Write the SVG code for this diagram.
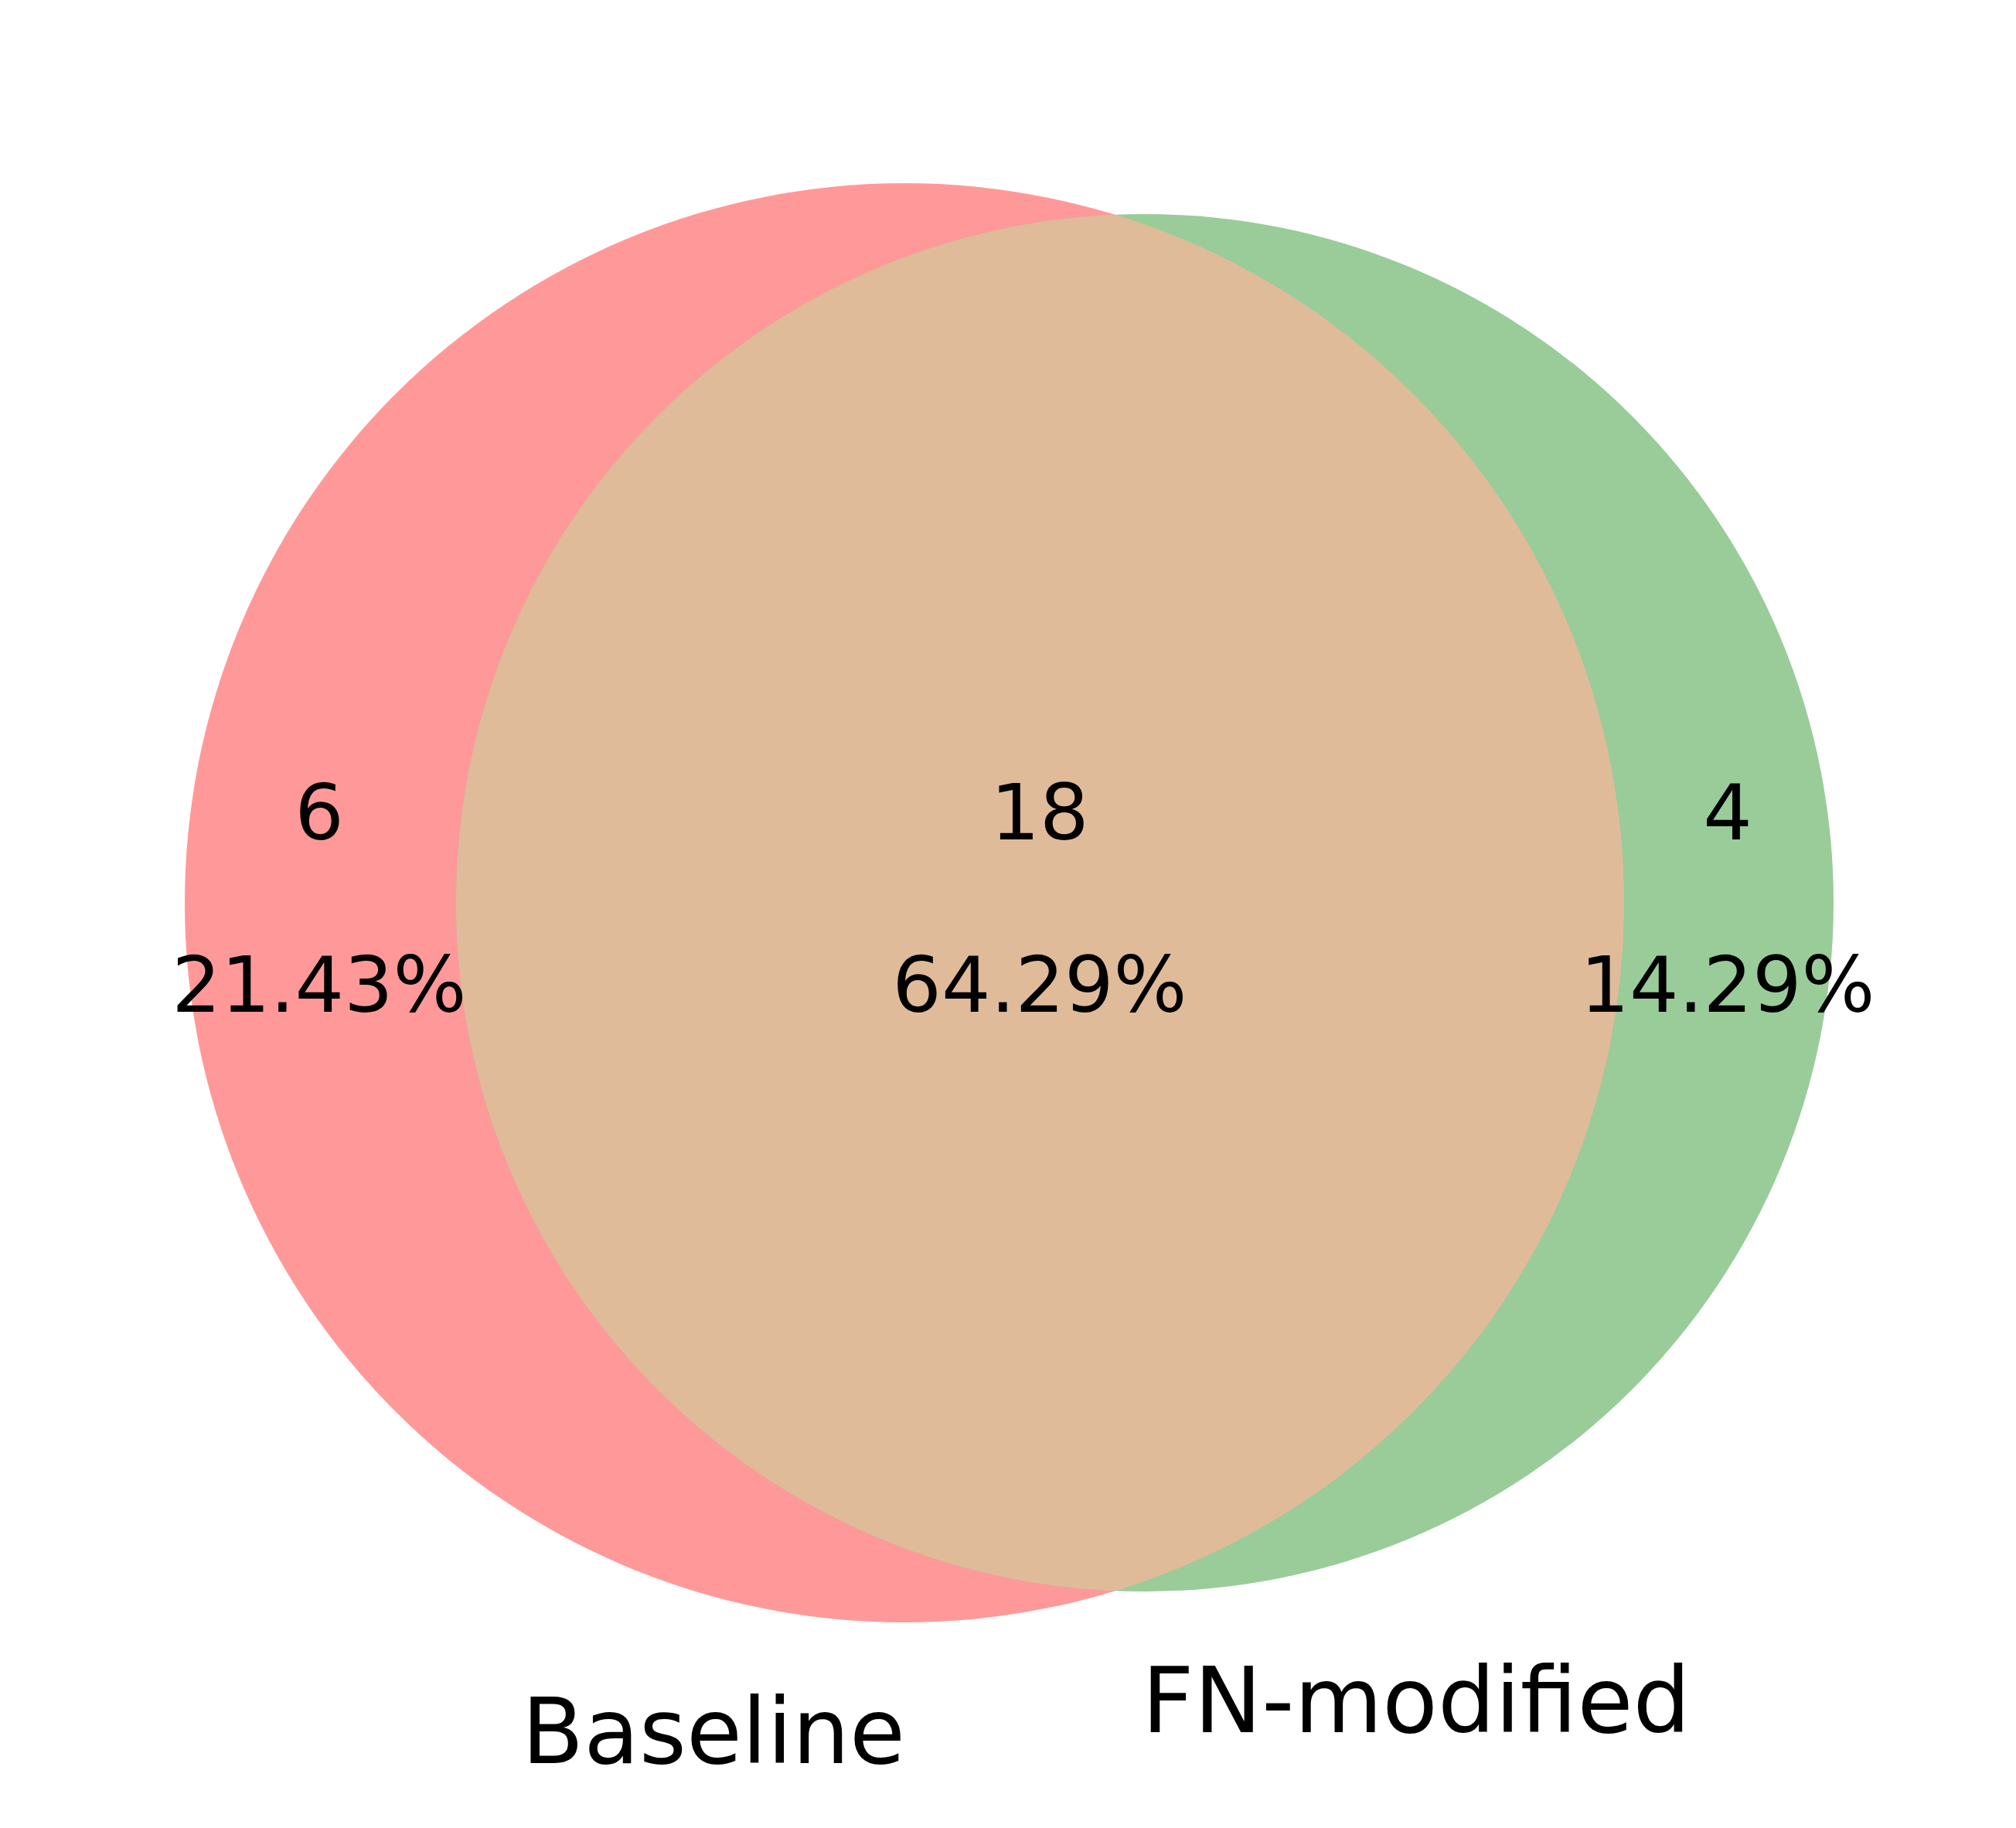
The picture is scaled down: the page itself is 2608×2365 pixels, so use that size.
<svg xmlns="http://www.w3.org/2000/svg" width="2608" height="2365" viewBox="0 0 2608 2365">
<style>
.num{font-family:"DejaVu Sans",sans-serif;font-size:100px;fill:#000;text-anchor:middle}
.lab{font-family:"DejaVu Sans",sans-serif;font-size:117px;fill:#000;text-anchor:middle}
</style>
<defs>
<clipPath id="clipA"><circle cx="1170" cy="1168" r="931"/></clipPath>
</defs>
<rect width="2608" height="2365" fill="#ffffff"/>
<g id="setA"><circle cx="1170" cy="1168" r="931" fill="#ff9999"/></g>
<g id="setB"><circle cx="1481" cy="1168" r="891" fill="#99cc99"/></g>
<g id="intersection"><circle cx="1481" cy="1168" r="891" fill="#e0bb99" clip-path="url(#clipA)"/></g>
<g id="connectors"></g>
<g id="labels">
<text class="num" x="413" y="1086">6</text>
<text class="num" x="413" y="1309">21.43%</text>
<text class="num" x="1345" y="1086">18</text>
<text class="num" x="1345" y="1309">64.29%</text>
<text class="num" x="2235" y="1086">4</text>
<text class="num" x="2235" y="1309">14.29%</text>
<text class="lab" x="923" y="2281">Baseline</text>
<text class="lab" x="1832" y="2241">FN-modified</text>
</g>
</svg>
